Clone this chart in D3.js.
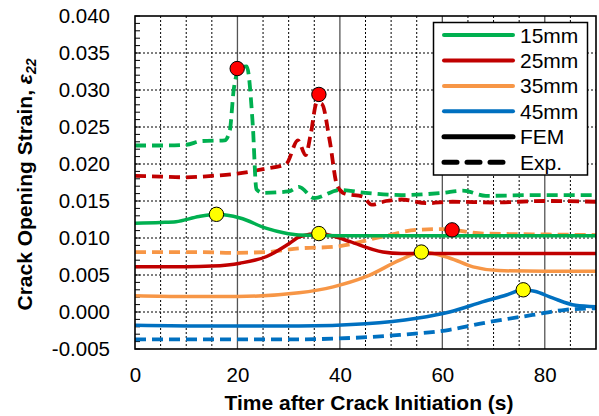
<!DOCTYPE html>
<html><head><meta charset="utf-8">
<script src="https://cdn.jsdelivr.net/npm/d3@7/dist/d3.min.js"></script>
<style>
body{margin:0;background:#fff;}
svg{display:block;font-family:"Liberation Sans",Arial,sans-serif;}
</style></head>
<body>
<svg id="chart" width="599" height="416"></svg>
<script>
// ---- data (time s, strain) ----
const fem15 = [[0,0.0120],[5,0.0121],[8,0.0122],[12.5,0.0129],[16,0.0132],[20.5,0.0127],[25.7,0.0113],[29,0.0107],[32,0.0104],[40,0.0103],[90,0.0103]];
const exp15 = [[0,0.0225],[5,0.0225],[10,0.0226],[13,0.0231],[17.5,0.0232],[18.5,0.0245],[19.3,0.0302],[20.5,0.0330],[21.8,0.0332],[23,0.0252],[23.7,0.0166],[25,0.0161],[30,0.0163],[32,0.0169],[35,0.0154],[40,0.0165],[45,0.0161],[52,0.0158],[60,0.0161],[64,0.0164],[68.5,0.0157],[78,0.0158],[90,0.0158]];
const fem25 = [[0,0.0061],[10,0.0061],[15,0.0062],[20.5,0.0066],[25.7,0.0075],[30.2,0.0093],[32.2,0.0102],[36,0.0106],[39,0.0102],[42,0.0095],[48.4,0.0081],[52,0.0079],[55,0.0079],[90,0.0079]];
const exp25 = [[0,0.0184],[5,0.0183],[10,0.0182],[15,0.0184],[20,0.0187],[25,0.0193],[29.5,0.0200],[31.8,0.0232],[33.3,0.0212],[34.3,0.0240],[35.5,0.0283],[36.5,0.0281],[38,0.0232],[39.5,0.0170],[41,0.0160],[44.5,0.0156],[46.2,0.0145],[49,0.0150],[52,0.0152],[57,0.0147],[62,0.0149],[70,0.0148],[80,0.0150],[90,0.0149]];
const fem35 = [[0,0.0022],[10,0.0021],[20,0.0021],[32,0.0026],[38.7,0.0034],[45.2,0.0048],[51.7,0.0070],[56,0.0081],[61.4,0.0073],[66,0.0061],[71,0.0056],[80,0.0055],[90,0.0055]];
const exp35 = [[0,0.0081],[6,0.0081],[12.7,0.0081],[19,0.0080],[25.7,0.0081],[32,0.0086],[38.7,0.0088],[48.4,0.0102],[55,0.0111],[60,0.0112],[68,0.0106],[77.6,0.0105],[90,0.0104]];
const fem45 = [[0,-0.0018],[15,-0.0019],[32,-0.0019],[45,-0.0016],[55,-0.00085],[61.4,0.0000],[68,0.0014],[72.5,0.0023],[75.8,0.0030],[78,0.0028],[81.5,0.0019],[86,0.0009],[90,0.0007]];
const exp45 = [[0,-0.0037],[20,-0.0037],[32,-0.0037],[38.7,-0.0036],[51.7,-0.0031],[61.4,-0.0024],[68,-0.0015],[77.6,-0.0004],[84,0.0003],[90,0.0005]];
const yellowPts = [[15.9,0.0132],[35.9,0.0106],[55.9,0.0081],[75.8,0.0030]];
const redPts = [[19.95,0.0329],[35.9,0.0294],[61.9,0.0111]];
const xTicks = [0,20,40,60,80];
const yTicks = [-0.005,0,0.005,0.010,0.015,0.020,0.025,0.030,0.035,0.040];
const legendLabels = ["15mm","25mm","35mm","45mm","FEM","Exp."];

const colors = {g:"#00B050", r:"#C00000", o:"#F79646", b:"#0070C0"};

const svg = d3.select("#chart");
const L=135, R=596, T=16, B=349;
const x = d3.scaleLinear().domain([0,90]).range([L,R]);
const y = d3.scaleLinear().domain([-0.005,0.040]).range([B,T]);

// grid
const g = svg.append("g");
d3.range(5,90,5).forEach(v=>{
  const major = v%20===0;
  g.append("line").attr("x1",x(v)).attr("x2",x(v)).attr("y1",T).attr("y2",B)
   .attr("stroke", major?"#555":"#000").attr("stroke-width", major?1.3:1)
   .attr("stroke-dasharray", major?null:"2,2");
});
yTicks.slice(1,-1).forEach(v=>{
  g.append("line").attr("x1",L).attr("x2",R).attr("y1",y(v)).attr("y2",y(v))
   .attr("stroke","#000").attr("stroke-width",1).attr("stroke-dasharray","2,2");
});
// minor y ticks
d3.range(-0.005,0.0401,0.001).forEach(v=>{
  g.append("line").attr("x1",L).attr("x2",L+5).attr("y1",y(v)).attr("y2",y(v))
   .attr("stroke","#000").attr("stroke-width",1);
});

// axes labels via d3 axes
const yAxis = d3.axisLeft(y).tickValues(yTicks).tickFormat(d3.format(".3f")).tickSize(0).tickPadding(25);
const ya = svg.append("g").attr("transform",`translate(${L},0)`).call(yAxis);
ya.select(".domain").remove();
ya.selectAll("text").attr("font-size","20.5px").attr("fill","#000").attr("font-family","'Liberation Sans',Arial,sans-serif")
  .text(d=>d3.format(".3f")(d).replace("−","-"));
const xAxis = d3.axisBottom(x).tickValues(xTicks).tickSize(0).tickPadding(18);
const xa = svg.append("g").attr("transform",`translate(0,${B})`).call(xAxis);
xa.select(".domain").remove();
xa.selectAll("text").attr("font-size","20.5px").attr("fill","#000").attr("font-family","'Liberation Sans',Arial,sans-serif");

// lines
const line = d3.line().x(d=>x(d[0])).y(d=>y(d[1])).curve(d3.curveMonotoneX);
const series = [
  [exp45,colors.b,true],[fem45,colors.b,false],
  [exp35,colors.o,true],[fem35,colors.o,false],
  [fem25,colors.r,false],[fem15,colors.g,false],
  [exp25,colors.r,true],[exp15,colors.g,true]
];
series.forEach(([d,c,dash])=>{
  svg.append("path").attr("d",line(d)).attr("fill","none").attr("stroke",c)
    .attr("stroke-width",dash?3.8:3.5).attr("stroke-dasharray",dash?"11,6":null);
});

// markers
svg.selectAll("circle.y").data(yellowPts).join("circle").attr("class","y")
  .attr("cx",d=>x(d[0])).attr("cy",d=>y(d[1])).attr("r",7.2)
  .attr("fill","#FFFF00").attr("stroke","#000").attr("stroke-width",1);
svg.selectAll("circle.r").data(redPts).join("circle").attr("class","r")
  .attr("cx",d=>x(d[0])).attr("cy",d=>y(d[1])).attr("r",7.2)
  .attr("fill","#FF0000").attr("stroke","#000").attr("stroke-width",1);

// frame
svg.append("rect").attr("x",L).attr("y",T).attr("width",R-L).attr("height",B-T)
  .attr("fill","none").attr("stroke","#000").attr("stroke-width",1.6);

// legend
const lg = svg.append("g");
lg.append("rect").attr("x",433.5).attr("y",22.5).attr("width",154).attr("height",152.5)
  .attr("fill","#fff").attr("stroke","#000").attr("stroke-width",1.5);
const lcols = [colors.g,colors.r,colors.o,colors.b,"#000","#000"];
legendLabels.forEach((t,i)=>{
  const yy = 35 + i*25.45;
  lg.append("line").attr("x1",444).attr("x2",513).attr("y1",yy).attr("y2",yy)
    .attr("stroke",lcols[i]).attr("stroke-width",i>=4?5:4)
    .attr("stroke-linecap","round")
    .attr("stroke-dasharray",i===5?"13,10":null);
  lg.append("text").attr("x",520).attr("y",yy+7.5).attr("font-size","21px").text(t);
});

// axis titles
svg.append("text").attr("x",369).attr("y",410).attr("text-anchor","middle")
  .attr("font-size","21px").attr("font-weight","bold").text("Time after Crack Initiation (s)");
const yt = svg.append("text").attr("transform","translate(32,184.5) rotate(-90)")
  .attr("text-anchor","middle").attr("font-size","21px").attr("font-weight","bold");
yt.append("tspan").text("Crack Opening Strain, ");
yt.append("tspan").attr("font-style","italic").text("ε");
yt.append("tspan").attr("font-style","italic").attr("font-size","14px").attr("dy","4").text("22");
</script>
</body></html>
